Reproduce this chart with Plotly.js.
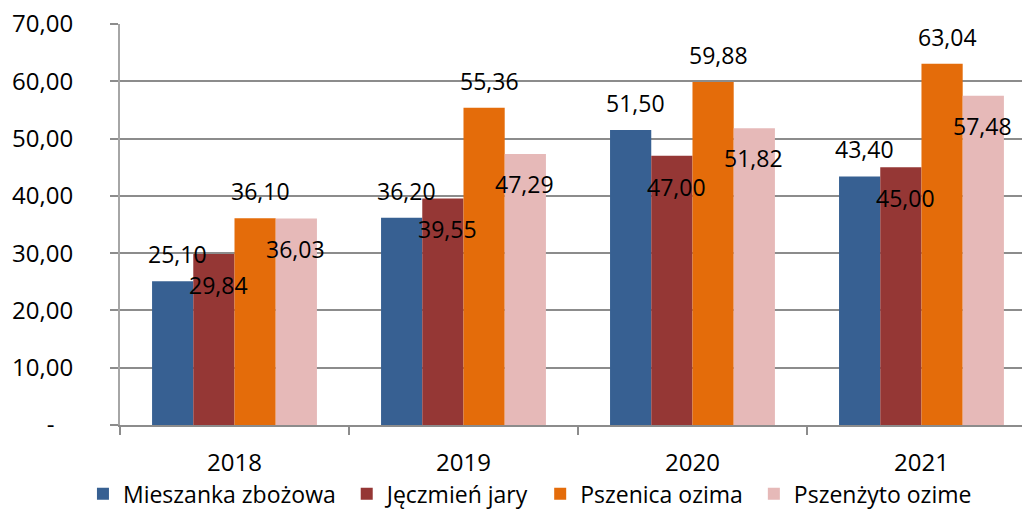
<!DOCTYPE html>
<html>
<head>
<meta charset="utf-8">
<script src="https://cdn.plot.ly/plotly-3.0.1.min.js"></script>
<style>
html,body{margin:0;padding:0;background:#fff;overflow:hidden;}
#chart{width:1022px;height:511px;}
</style>
</head>
<body>
<div id="chart"></div>
<script>
// ---- data ----
const years = ["2018", "2019", "2020", "2021"];
const seriesNames = ["Mieszanka zbożowa", "Jęczmień jary", "Pszenica ozima", "Pszenżyto ozime"];
const mieszanka = [25.10, 36.20, 51.50, 43.40];
const jeczmien = [29.84, 39.55, 47.00, 45.00];
const pszenica = [36.10, 55.36, 59.88, 63.04];
const pszenzyto = [36.03, 47.29, 51.82, 57.48];
const yTickValues = [0, 10, 20, 30, 40, 50, 60, 70];

// ---- styles ----
const colors = ["#376092", "#953735", "#E46C0A", "#E6B9B8"];
const labelDy = [27, -31, 27, -30];   // label offset from bar top (px)
const labelDx = [5, 5, 5, -1];
const FONT = "'Open Sans', 'Noto Sans', sans-serif";
const GRID = "#8c8c8c";
const AXIS = "#a6a6a6";

const allSeries = [mieszanka, jeczmien, pszenica, pszenzyto];
const fmt = v => v.toFixed(2).replace(".", ",");

const marginL = 120, marginR = 0, marginT = 23.7, marginB = 86;
const plotW = 1022 - marginL - marginR;
const xRange = [-0.5, 3.439];
const bargap = 0.28;
const catPx = plotW / (xRange[1] - xRange[0]);
const barPx = catPx * (1 - bargap) / allSeries.length;

const traces = allSeries.map((vals, i) => ({
  type: "bar",
  name: seriesNames[i] + (i < allSeries.length - 1 ? "\u00a0" : ""),
  x: years,
  y: vals,
  marker: {color: colors[i], line: {width: 0}},
  hoverinfo: "none"
}));

const annotations = [];
allSeries.forEach((vals, i) => {
  vals.forEach((v, j) => {
    annotations.push({
      x: j, y: v, xref: "x", yref: "y",
      text: fmt(v), showarrow: false,
      xanchor: "center", yanchor: "middle",
      xshift: (i - (allSeries.length - 1) / 2) * barPx + labelDx[i],
      yshift: labelDy[i],
      font: {family: FONT, size: 23, color: "#000"}
    });
  });
});

const layout = {
  width: 1022, height: 511,
  margin: {l: marginL, r: marginR, t: marginT, b: marginB, pad: 0, autoexpand: false},
  paper_bgcolor: "#fff", plot_bgcolor: "#fff",
  barmode: "group", bargap: bargap, bargroupgap: 0,
  showlegend: true,
  legend: {
    orientation: "h", x: 0.4545, xanchor: "center", y: -0.1715, yanchor: "middle",
    font: {family: FONT, size: 23, color: "#000"},
    itemwidth: 30, traceorder: "normal", itemclick: false, itemdoubleclick: false
  },
  xaxis: {
    type: "category", range: xRange,
    tickson: "boundaries", ticks: "outside", ticklen: 8, tickcolor: GRID, tickwidth: 2,
    showline: true, linecolor: GRID, linewidth: 2,
    showgrid: false, zeroline: false,
    ticklabelstandoff: 15,
    tickfont: {family: FONT, size: 24, color: "#000"},
    fixedrange: true
  },
  yaxis: {
    range: [0, 70], tickvals: yTickValues,
    ticktext: yTickValues.map(v => v === 0 ? "-\u00a0\u00a0\u00a0" : fmt(v)),
    ticks: "outside", ticklen: 8, tickcolor: GRID, tickwidth: 2,
    showgrid: true, gridcolor: GRID, gridwidth: 2,
    showline: true, linecolor: AXIS, linewidth: 2,
    zeroline: false,
    ticklabelstandoff: 32,
    tickfont: {family: FONT, size: 24, color: "#000"},
    fixedrange: true
  },
  annotations: annotations
};

Plotly.newPlot("chart", traces, layout, {displayModeBar: false, staticPlot: true});
</script>
</body>
</html>
